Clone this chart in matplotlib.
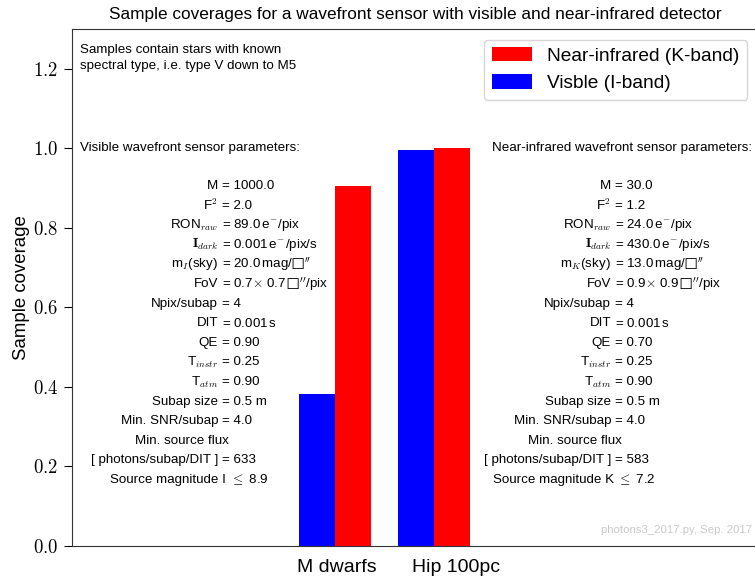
import matplotlib
matplotlib.use("Agg")
import matplotlib.pyplot as plt
from matplotlib.ticker import FuncFormatter

plt.rcParams['font.family'] = ['Liberation Sans', 'DejaVu Sans']
plt.rcParams['mathtext.fontset'] = 'cm'

# data
samples = ['M dwarfs', 'Hip 100pc']
visible = [0.382, 0.995]
nearir = [0.905, 1.0]

vis_params = [
    ('M', '= 1000.0'),
    ('F$^2$', '= 2.0'),
    ('RON$_{raw}$', r'= 89.0$\,$e$^{-}$/pix'),
    (r'$\mathbf{I}_{dark}$', r'= 0.001$\,$e$^{-}$/pix/s'),
    ('m$_{I}$(sky)', "= 20.0$\\,$mag/$\u25a1''$"),
    ('FoV', "= 0.7$\\times$ 0.7$\\,\u25a1''$/pix"),
    ('Npix/subap', '= 4'),
    ('DIT', r'= 0.001$\,$s'),
    ('QE', '= 0.90'),
    ('T$_{instr}$', '= 0.25'),
    ('T$_{atm}$', '= 0.90'),
    ('Subap size', '= 0.5 m'),
    ('Min. SNR/subap', '= 4.0'),
    ('Min. source flux', None),
    ('[ photons/subap/DIT ]', '= 633'),
    ('Source magnitude I', r'$\leq$ 8.9'),
]
nir_params = [
    ('M', '= 30.0'),
    ('F$^2$', '= 1.2'),
    ('RON$_{raw}$', r'= 24.0$\,$e$^{-}$/pix'),
    (r'$\mathbf{I}_{dark}$', r'= 430.0$\,$e$^{-}$/pix/s'),
    ('m$_{K}$(sky)', "= 13.0$\\,$mag/$\u25a1''$"),
    ('FoV', "= 0.9$\\times$ 0.9$\\,\u25a1''$/pix"),
    ('Npix/subap', '= 4'),
    ('DIT', r'= 0.001$\,$s'),
    ('QE', '= 0.70'),
    ('T$_{instr}$', '= 0.25'),
    ('T$_{atm}$', '= 0.90'),
    ('Subap size', '= 0.5 m'),
    ('Min. SNR/subap', '= 4.0'),
    ('Min. source flux', None),
    ('[ photons/subap/DIT ]', '= 583'),
    ('Source magnitude K', r'$\leq$ 7.2'),
]

fig = plt.figure(figsize=(7.55, 5.79), dpi=100)
ax = fig.add_axes([72/755, 33/579, 686/755, 517/579])

x = range(len(samples))
w = 0.36
ax.bar([i - w/2 for i in x], visible, w, color='blue', edgecolor='none', label='Visble (I-band)')
ax.bar([i + w/2 for i in x], nearir, w, color='red', edgecolor='none', label='Near-infrared (K-band)')

ax.set_xlim(-2.657, 4.273)
ax.set_ylim(0, 1.3)
# labels sit a bit right of the second bar pair in the original
ax.set_xticks([0.02, 1.22])
ax.set_xticklabels(samples, fontsize=14)
ax.tick_params(axis='x', length=0, pad=9)
ax.set_yticks([0.0, 0.2, 0.4, 0.6, 0.8, 1.0, 1.2])
ax.yaxis.set_major_formatter(FuncFormatter(lambda v, p: r'$%.1f$' % v))
ax.tick_params(axis='y', labelsize=13.5, length=6, pad=4)
ax.set_ylabel('Sample coverage', fontsize=13.4, labelpad=2)
for s in ax.spines.values():
    s.set_color('#333333')

ax.set_title('Sample coverages for a wavefront sensor with visible and near-infrared detector',
             fontsize=12.4, pad=7)

h, l = ax.get_legend_handles_labels()
ax.legend(h[::-1], l[::-1], loc='upper right', fontsize=13.8, handlelength=2.1,
          handleheight=0.75, handletextpad=0.8, borderaxespad=0.55)

ax.text(0.012, 0.943, 'Samples contain stars with known\nspectral type, i.e. type V down to M5',
        transform=ax.transAxes, fontsize=9.6, va='center', ha='left', linespacing=1.45)
ax.text(0.012, 0.770, 'Visible wavefront sensor parameters:', transform=ax.transAxes,
        fontsize=9.6, va='center', ha='left')
ax.text(0.991, 0.770, 'Near-infrared wavefront sensor parameters:', transform=ax.transAxes,
        fontsize=9.6, va='center', ha='right')

def param_block(params, xeq, leq_shift):
    for i, (name, val) in enumerate(params):
        y = (546 - (186 + 19.6 * i)) / 517
        if val is None:
            ax.text(xeq + 0.011, y, name, transform=ax.transAxes, fontsize=9.6,
                    va='center', ha='right')
            continue
        xx = xeq + (leq_shift if val.startswith(r'$\leq') else 0)
        ax.text(xx - 0.005, y, name, transform=ax.transAxes, fontsize=9.6,
                va='center', ha='right')
        ax.text(xx, y, val, transform=ax.transAxes, fontsize=9.6,
                va='center', ha='left')

param_block(vis_params, 0.218, 0.012)
param_block(nir_params, 0.791, 0.004)

ax.text(0.991, 0.031, 'photons3_2017.py, Sep. 2017', transform=ax.transAxes,
        fontsize=8.2, color='#c8c8c8', ha='right', va='center')

fig.savefig('out.png', dpi=100)
